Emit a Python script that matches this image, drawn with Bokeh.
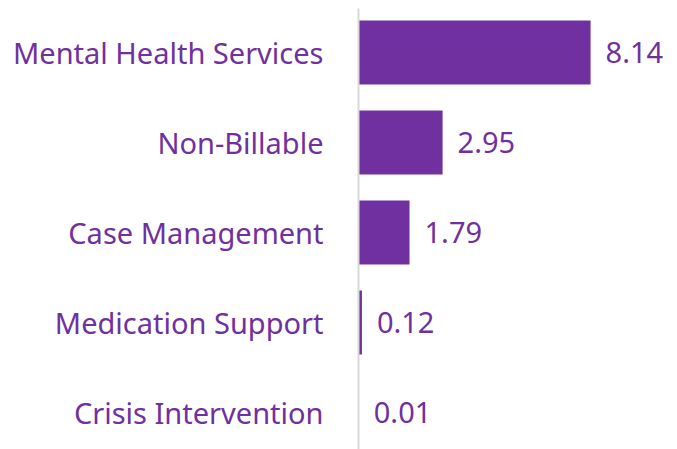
from bokeh.plotting import figure
from bokeh.models import ColumnDataSource, Range1d, FixedTicker, LabelSet
from bokeh.core.properties import value
from bokeh.embed import file_html
from bokeh.resources import INLINE

categories = ["Mental Health Services", "Non-Billable", "Case Management",
              "Medication Support", "Crisis Intervention"]
values = [8.14, 2.95, 1.79, 0.12, 0.01]
value_labels = ["8.14", "2.95", "1.79", "0.12", "0.01"]

PURPLE = "#7030A0"
FONT = "Noto Sans"

pos = list(range(len(categories)))
src = ColumnDataSource(dict(y=pos, x=values, lab=value_labels))

p = figure(width=677, height=449, output_backend="svg", toolbar_location=None,
           x_range=Range1d(0, 11.19), y_range=Range1d(4.411, -0.489),
           min_border_left=358, min_border_right=0, min_border_top=8, min_border_bottom=0)
p.hbar(y="y", right="x", left=0, height=0.71, source=src, color=PURPLE, line_color=None)

labels = LabelSet(x="x", y="y", text="lab", source=src, x_offset=15,
                  text_baseline="middle", text_color=PURPLE,
                  text_font=value(FONT), text_font_size="29px")
p.add_layout(labels)

p.xaxis.visible = False
p.xgrid.visible = False
p.ygrid.visible = False
p.outline_line_color = None

ax = p.yaxis[0]
ax.ticker = FixedTicker(ticks=pos)
ax.major_label_overrides = {i: c for i, c in zip(pos, categories)}
ax.major_tick_line_color = None
ax.minor_tick_line_color = None
ax.axis_line_color = "#d9d9d9"
ax.axis_line_width = 2
ax.major_label_text_color = PURPLE
ax.major_label_text_font = FONT
ax.major_label_text_font_size = "29px"
ax.major_label_standoff = 29

open("out.html", "w").write(file_html(p, INLINE))
